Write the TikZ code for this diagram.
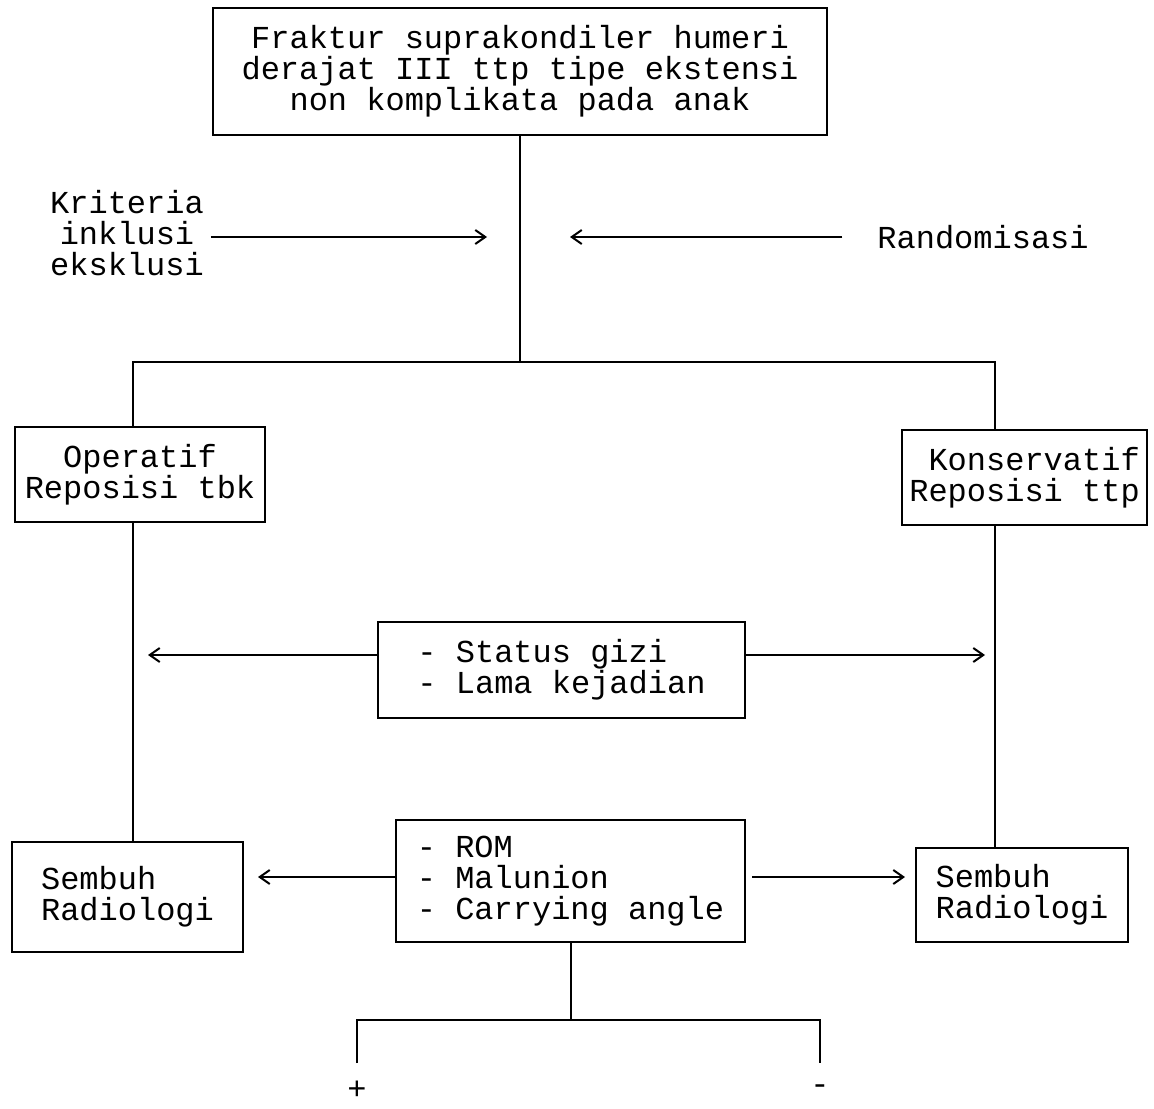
\documentclass[tikz,border=0pt]{standalone}
\usepackage{fontspec}
\setmonofont{Liberation Mono}
\usetikzlibrary{arrows.meta}

\begin{document}
\begin{tikzpicture}[x=0.5pt,y=-0.5pt,
  every node/.style={font=\ttfamily\fontsize{16}{15.5}\selectfont},
  flowbox/.style={draw,line width=1pt},
  link/.style={line width=1pt},
  tolink/.style={line width=1pt,-{Straight Barb[length=5pt,width=7pt]}}]

\useasboundingbox (0,0) rectangle (1154,1108);

% Boxes
\node[flowbox,minimum width=307pt,minimum height=63.5pt,align=center] (fraktur) at (520,71.5)
  {Fraktur suprakondiler humeri\\derajat III ttp tipe ekstensi\\non komplikata pada anak};
\node[flowbox,minimum width=125pt,minimum height=47.5pt,align=center] (operatif) at (140,474.5)
  {Operatif\\Reposisi tbk};
\node[flowbox,minimum width=122.5pt,minimum height=47.5pt,align=right] (konservatif) at (1024.5,477.5)
  {Konservatif\\Reposisi ttp};
\node[flowbox,minimum width=183.5pt,minimum height=48pt,align=left] (status) at (561.5,670)
  {- Status gizi\\- Lama kejadian};
\node[flowbox,minimum width=174.5pt,minimum height=61pt,align=left] (rom) at (570.5,881)
  {- ROM\\- Malunion\\- Carrying angle};
\node[flowbox,minimum width=115.5pt,minimum height=55pt,align=left] (sembuhL) at (127.5,897)
  {Sembuh\\Radiologi};
\node[flowbox,minimum width=106pt,minimum height=47pt,align=left] (sembuhR) at (1022,895)
  {Sembuh\\Radiologi};

% Side texts
\node[align=center] (kriteria) at (127,233) {Kriteria\\inklusi\\eksklusi};
\node (random) at (983,237) {Randomisasi};
\node (plus) at (357,1090) {+};
\node (minus) at (820,1090) {-};

% Branching lines
\coordinate (split) at (520,362);
\coordinate (lcol) at (133,362);
\coordinate (rcol) at (995,362);
\draw[link] (fraktur) -- (split);
\draw[link] (operatif.north -| lcol) -- (lcol) -- (rcol) -- (konservatif.north -| rcol);
\draw[link] (operatif.south -| lcol) -- (sembuhL.north -| lcol);
\draw[link] (konservatif.south -| rcol) -- (sembuhR.north -| rcol);

% Arrows towards the main line
\coordinate (kritend) at (487,237);
\coordinate (randend) at (570,237);
\draw[tolink] (kriteria.east |- kritend) -- (kritend);
\draw[tolink,shorten <=14pt] (random.west) -- (randend);

% Arrows from the middle boxes
\coordinate (statusL) at (148,655);
\coordinate (statusR) at (985,655);
\draw[tolink] (status.west |- statusL) -- (statusL);
\draw[tolink] (status.east |- statusR) -- (statusR);
\draw[tolink,shorten >=7pt] (rom.west) ++(0,-4) -- (sembuhL.east |- 0,877);
\draw[tolink,shorten <=3pt,shorten >=5pt] (rom.east) ++(0,-4) -- (sembuhR.west |- 0,877);

% Outcome fork
\coordinate (fork) at (570.5,1020);
\coordinate (plusend) at (357,1063);
\coordinate (minusend) at (820,1063);
\draw[link] (rom.south) -- (fork);
\draw[link] (plusend) |- (fork) -| (minusend);

\end{tikzpicture}
\end{document}
